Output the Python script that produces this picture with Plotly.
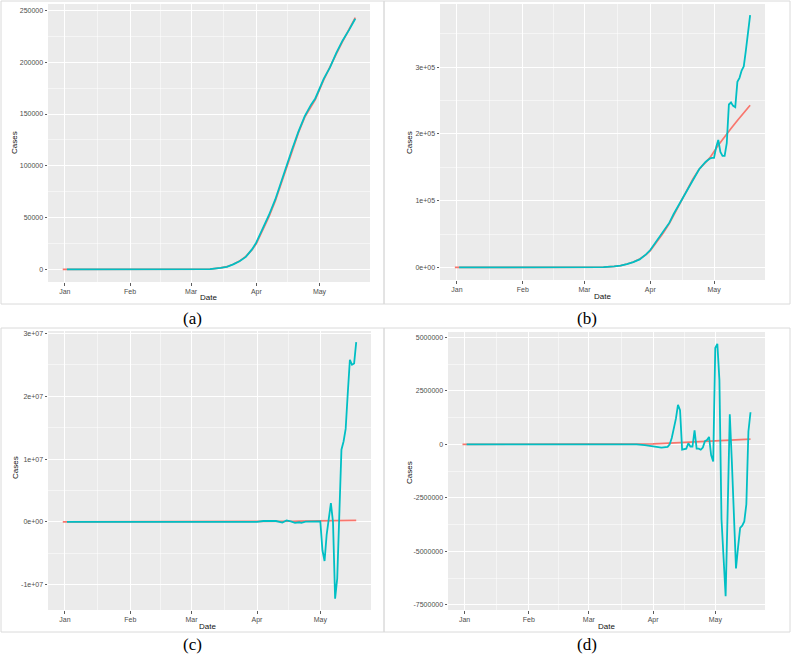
import plotly.graph_objects as go

W, H = 791, 657

# ---------------- data ----------------
actual_dates = ["2019-12-31", "2020-03-10", "2020-03-15", "2020-03-18", "2020-03-21", "2020-03-24",
                "2020-03-27", "2020-03-30", "2020-04-01", "2020-04-04", "2020-04-07", "2020-04-10",
                "2020-04-12", "2020-04-15", "2020-04-18", "2020-04-21", "2020-04-24", "2020-04-27",
                "2020-04-29", "2020-05-03", "2020-05-06", "2020-05-09", "2020-05-12", "2020-05-15",
                "2020-05-18"]
actual_cases = [0, 300, 1500, 2600, 5000, 8000,
                12500, 19000, 25000, 38000, 51000, 66000,
                78000, 97000, 115000, 132000, 147000, 158000,
                164000, 183000, 196000, 208000, 220000, 232000,
                243000]

fit_a_dates = ["2020-01-02", "2020-03-10", "2020-03-15", "2020-03-18", "2020-03-21", "2020-03-24",
               "2020-03-27", "2020-03-30", "2020-04-01", "2020-04-04", "2020-04-07", "2020-04-10",
               "2020-04-12", "2020-04-15", "2020-04-18", "2020-04-21", "2020-04-24", "2020-04-27",
               "2020-04-29", "2020-05-03", "2020-05-06", "2020-05-09", "2020-05-12", "2020-05-15",
               "2020-05-18"]
fit_a_cases = [0, 250, 1400, 2500, 4800, 7800,
               12000, 19500, 26000, 39000, 52500, 67500,
               80000, 98000, 116000, 133000, 148000, 159000,
               165000, 184000, 195000, 209000, 221000, 231000,
               242000]

fit_b_dates = ["2020-01-02", "2020-03-10", "2020-03-15", "2020-03-18", "2020-03-21", "2020-03-24",
               "2020-03-27", "2020-03-30", "2020-04-01", "2020-04-04", "2020-04-07", "2020-04-10",
               "2020-04-12", "2020-04-15", "2020-04-18", "2020-04-21", "2020-04-24", "2020-04-27",
               "2020-04-29", "2020-04-30", "2020-05-01", "2020-05-02", "2020-05-03", "2020-05-04",
               "2020-05-05", "2020-05-06", "2020-05-07", "2020-05-08", "2020-05-09", "2020-05-10",
               "2020-05-11", "2020-05-12", "2020-05-13", "2020-05-14", "2020-05-15", "2020-05-16",
               "2020-05-17", "2020-05-18"]
fit_b_cases = [0, 250, 1400, 2500, 4800, 7800,
               12000, 19500, 26000, 40000, 52000, 67000,
               80000, 97000, 115000, 132000, 147000, 158000,
               163000, 164000, 164000, 180000, 191000, 173000,
               167000, 167000, 186000, 244000, 247000, 242000,
               240000, 278000, 284000, 295000, 301000, 325000,
               350000, 378000]

fit_c_dates = ["2020-01-02", "2020-04-01", "2020-04-04", "2020-04-07", "2020-04-10", "2020-04-13",
               "2020-04-15", "2020-04-17", "2020-04-19", "2020-04-21", "2020-04-22", "2020-04-24",
               "2020-04-28", "2020-04-30", "2020-05-01", "2020-05-02", "2020-05-03", "2020-05-04",
               "2020-05-05", "2020-05-06", "2020-05-07", "2020-05-08", "2020-05-09", "2020-05-10",
               "2020-05-11", "2020-05-12", "2020-05-13", "2020-05-14", "2020-05-15", "2020-05-16",
               "2020-05-17", "2020-05-18"]
fit_c_cases = [0, 0, 150000, 200000, 150000, -100000,
               250000, 100000, -150000, -50000, -150000, 50000,
               100000, 200000, 100000, -4500000, -6200000, -2000000,
               500000, 3000000, 0, -12200000, -9000000, 2000000,
               11500000, 12800000, 14800000, 20500000, 25800000, 25000000,
               25200000, 28600000]

fit_d_dates = ["2020-01-02", "2020-03-24", "2020-03-28", "2020-04-01", "2020-04-05", "2020-04-08",
               "2020-04-09", "2020-04-10", "2020-04-11", "2020-04-12", "2020-04-13", "2020-04-14",
               "2020-04-15", "2020-04-16", "2020-04-17", "2020-04-18", "2020-04-19", "2020-04-20",
               "2020-04-21", "2020-04-22", "2020-04-23", "2020-04-24", "2020-04-25", "2020-04-26",
               "2020-04-27", "2020-04-28", "2020-04-29", "2020-04-30", "2020-05-01", "2020-05-02",
               "2020-05-03", "2020-05-04", "2020-05-05", "2020-05-06", "2020-05-07", "2020-05-08",
               "2020-05-09", "2020-05-10", "2020-05-11", "2020-05-12", "2020-05-13", "2020-05-14",
               "2020-05-15", "2020-05-16", "2020-05-17", "2020-05-18"]
fit_d_cases = [0, 0, -40000, -80000, -150000, -120000,
               0, 300000, 700000, 1200000, 1850000, 1600000,
               -250000, -230000, -200000, 50000, -100000, -100000,
               650000, -200000, -200000, -250000, -150000, 150000,
               200000, 350000, -500000, -800000, 4500000, 4700000,
               3000000, -3500000, -5500000, -7100000, -3000000, 1400000,
               -800000, -3800000, -5800000, -4800000, -3900000, -3800000,
               -3600000, -2800000, 600000, 1500000]

month_ticks = ["2020-01-01", "2020-02-01", "2020-03-01", "2020-04-01", "2020-05-01"]
month_labels = ["Jan", "Feb", "Mar", "Apr", "May"]
month_minor = ["2020-01-16 12:00", "2020-02-15 12:00", "2020-03-16 12:00", "2020-04-16"]
x_range = ["2019-12-24", "2020-05-25"]

ya_ticks = [0, 50000, 100000, 150000, 200000, 250000]
ya_labels = ["0", "50000", "100000", "150000", "200000", "250000"]
ya_minor = [25000, 75000, 125000, 175000, 225000]
yb_ticks = [0, 100000, 200000, 300000]
yb_labels = ["0e+00", "1e+05", "2e+05", "3e+05"]
yb_minor = [50000, 150000, 250000, 350000]
yc_ticks = [-10000000, 0, 10000000, 20000000, 30000000]
yc_labels = ["-1e+07", "0e+00", "1e+07", "2e+07", "3e+07"]
yc_minor = [-5000000, 5000000, 15000000, 25000000]
yd_ticks = [-7500000, -5000000, -2500000, 0, 2500000, 5000000]
yd_labels = ["-7500000", "-5000000", "-2500000", "0", "2500000", "5000000"]
yd_minor = [-6250000, -3750000, -1250000, 1250000, 3750000]

RED = "#F8766D"
CYAN = "#00BFC4"

panels = [
    # (fit dates, fit values, x px domain, y px domain, y range, ticks, labels, minor)
    (fit_a_dates, fit_a_cases, (48, 370), (4, 282), [-12200, 256200], ya_ticks, ya_labels, ya_minor),
    (fit_b_dates, fit_b_cases, (440, 765), (4, 280), [-18900, 394600], yb_ticks, yb_labels, yb_minor),
    (fit_c_dates, fit_c_cases, (48, 371), (331, 610), [-14000000, 30370000], yc_ticks, yc_labels, yc_minor),
    (fit_d_dates, fit_d_cases, (448, 765), (332, 610), [-7740000, 5250000], yd_ticks, yd_labels, yd_minor),
]

fig = go.Figure()
layout = dict(
    width=W, height=H, autosize=False,
    margin=dict(l=0, r=0, t=0, b=0),
    paper_bgcolor="white", plot_bgcolor="#EBEBEB",
    showlegend=False,
    font=dict(family="Liberation Sans, Arial, sans-serif", size=7, color="#4D4D4D"),
)

tickfont = dict(family="Liberation Sans, Arial, sans-serif", size=7, color="#4D4D4D")

for i, (fd, fv, xd, yd, yr, yt, yl, ym) in enumerate(panels):
    n = "" if i == 0 else str(i + 1)
    xa, ya = "x" + n, "y" + n
    fig.add_trace(go.Scatter(x=actual_dates, y=actual_cases, mode="lines",
                             line=dict(color=RED, width=1.7), xaxis=xa, yaxis=ya,
                             hoverinfo="skip"))
    fig.add_trace(go.Scatter(x=fd, y=fv, mode="lines",
                             line=dict(color=CYAN, width=1.8), xaxis=xa, yaxis=ya,
                             hoverinfo="skip"))
    layout["xaxis" + n] = dict(
        domain=[xd[0] / W, xd[1] / W], anchor=ya, type="date", range=x_range,
        tickmode="array", tickvals=month_ticks, ticktext=month_labels,
        showgrid=True, gridcolor="white", gridwidth=1,
        minor=dict(tickmode="array", tickvals=month_minor, showgrid=True,
                   gridcolor="white", gridwidth=0.5, ticks=""),
        ticks="outside", ticklen=2.5, tickwidth=0.8, tickcolor="#333333",
        tickfont=tickfont, zeroline=False, showline=False, fixedrange=True,
    )
    layout["yaxis" + n] = dict(
        domain=[1 - yd[1] / H, 1 - yd[0] / H], anchor=xa, range=yr,
        tickmode="array", tickvals=yt, ticktext=yl,
        showgrid=True, gridcolor="white", gridwidth=1,
        minor=dict(tickmode="array", tickvals=ym, showgrid=True,
                   gridcolor="white", gridwidth=0.5, ticks=""),
        ticks="outside", ticklen=2.5, tickwidth=0.8, tickcolor="#333333",
        tickfont=tickfont, zeroline=False, showline=False, fixedrange=True,
    )

fig.update_layout(**layout)

# axis titles
title_font = dict(family="Liberation Sans, Arial, sans-serif", size=8, color="#111111")
cases_pos = [(15, 143), (410, 143), (15, 468), (409, 472)]
date_pos = [(209, 297), (602, 296), (208, 626), (606, 626)]
for (cx, cy) in cases_pos:
    fig.add_annotation(text="Cases", x=cx / W, y=1 - cy / H, xref="paper", yref="paper",
                       showarrow=False, textangle=-90, font=title_font,
                       xanchor="center", yanchor="middle")
for (dx, dy) in date_pos:
    fig.add_annotation(text="Date", x=dx / W, y=1 - dy / H, xref="paper", yref="paper",
                       showarrow=False, font=title_font, xanchor="center", yanchor="middle")

# panel letters
letter_font = dict(family="Liberation Serif, Times New Roman, serif", size=17, color="black")
for txt, lx, ly in [("(a)", 192, 318), ("(b)", 587, 318), ("(c)", 192, 644), ("(d)", 587, 644)]:
    fig.add_annotation(text=txt, x=lx / W, y=1 - ly / H, xref="paper", yref="paper",
                       showarrow=False, font=letter_font, xanchor="center", yanchor="middle")

# panel frames
border = dict(color="#DADADA", width=1)
for (x0, y0, x1, y1) in [(1, 1, 384, 304), (384, 1, 790, 304), (1, 328, 384, 632), (384, 328, 790, 632)]:
    fig.add_shape(type="rect", xref="paper", yref="paper",
                  x0=x0 / W, x1=x1 / W, y0=1 - y1 / H, y1=1 - y0 / H,
                  line=border, fillcolor="rgba(0,0,0,0)", layer="below")

fig.write_html("out.html",
               config={"displayModeBar": False, "staticPlot": True},
               post_script="document.body.style.margin='0px';document.body.style.overflow='hidden';")
